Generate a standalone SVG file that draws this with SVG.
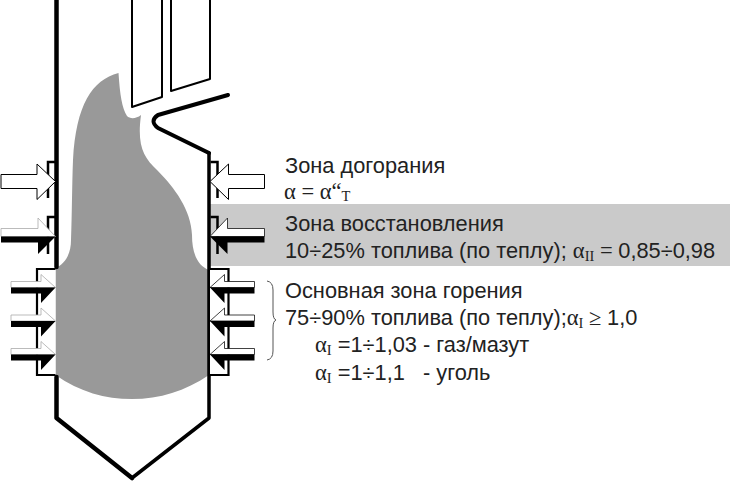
<svg xmlns="http://www.w3.org/2000/svg" width="731" height="483" viewBox="0 0 731 483">
<style>
.t{font-family:"Liberation Sans",Arial,sans-serif;font-size:21.800px;fill:#222}
.g{font-family:"Liberation Serif","Times New Roman",serif;font-size:22.500px;fill:#222}
.s{font-family:"Liberation Serif","Times New Roman",serif;font-size:14.500px;fill:#222}
.w{fill:none;stroke:#000;stroke-linejoin:round;stroke-linecap:round}
.box{fill:#fff;stroke:#000;stroke-width:2.200}
#burners-left{color:#aaa}
#burners-right{color:#111}
</style>
<defs>
<g id="airTop">
<path d="M48 198V162H55" fill="none" stroke="#000" stroke-width="2.500"/>
<path d="M1 174.500H37V164L55.500 181.500L37 199.500V188.500H1Z" fill="#fff" stroke="#000" stroke-width="1"/>
</g>
<g id="airMid">
<path d="M48 254V217H55" fill="none" stroke="#000" stroke-width="2.500"/>
<path d="M1 228.500H38V218L55.500 236.500H1Z" fill="#fff" stroke="currentColor" stroke-width="0.800"/>
<path d="M1 236.500H55.500L38 254V242.500H1Z" fill="#000"/>
</g>
<g id="airLow">
<path d="M11 281.500H41V274.500L55.500 287.500H11Z" fill="#fff" stroke="currentColor" stroke-width="0.800"/>
<path d="M11 287.500H55.500L41 303V293.500H11Z" fill="#000"/>
</g>
</defs>
<rect x="210" y="204" width="520" height="62" fill="#cacaca"/>
<g id="flame">
<path d="M118.500 73C92 80 76 105 73 160C72 185 72 215 71 240C71 254 65 264 55.500 268L55.500 375C80 392 105 399 132 399C160 399 185 391 209 375L209 270C198 266 192 254 192 235C191 210 175 188 157 170C143 157 137 145 141 115C136 119 130 119 127 116C122 108 120 95 118.500 73Z" fill="#999"/>
</g>
<g id="furnace">
<path class="w" stroke-width="4.500" d="M56.500 0V267"/>
<path class="w" stroke-width="4.500" d="M56.500 377V418L132 478"/>
<path class="w" stroke-width="3.500" d="M132 478L209 418V153"/>
<path class="w" stroke-width="4" d="M209 153L158 128Q149 121 158 115L228 95"/>
</g>
<g id="tubes">
<path class="w" stroke-width="2" d="M132 0V107L162 97V0"/>
<path class="w" stroke-width="2" d="M171 0V91L210 79V0"/>
</g>
<g id="burners-left">
<path class="box" d="M55.500 269H37V375H55.500"/>
<use href="#airTop"/><use href="#airMid"/>
<use href="#airLow"/><use href="#airLow" y="33.500"/><use href="#airLow" y="67"/>
</g>
<g id="burners-right" transform="translate(265.500 0) scale(-1 1)">
<path class="box" d="M55.500 269H37V375H55.500"/>
<use href="#airTop"/><use href="#airMid"/>
<use href="#airLow"/><use href="#airLow" y="33.500"/><use href="#airLow" y="67"/>
</g>
<g id="brace"><path d="M267 281Q273 282 273 290V312Q273 319 276 320Q273 321 273 328V351Q273 359 267 360" fill="none" stroke="#555" stroke-width="1"/></g>
<g id="labels">
<text class="t" x="285" y="173">Зона догорания</text>
<text class="g" x="284" y="199">α = α“<tspan class="s" dy="2">Т</tspan></text>
<text class="t" x="285" y="231">Зона восстановления</text>
<text class="t" x="285" y="258">10÷25% топлива (по теплу); <tspan class="g">α</tspan><tspan class="s" dy="3">II</tspan><tspan class="g" dy="-3"> = </tspan>0,85÷0,98</text>
<text class="t" x="285" y="298">Основная зона горения</text>
<text class="t" x="285" y="325">75÷90% топлива (по теплу);<tspan class="g">α</tspan><tspan class="s" dy="3">I</tspan><tspan class="g" dy="-3"> ≥ </tspan>1,0</text>
<text class="t" x="315" y="352"><tspan class="g">α</tspan><tspan class="s" dy="3">I</tspan><tspan dy="-3"> =1÷1,03 - газ/мазут</tspan></text>
<text class="t" x="315" y="380"><tspan class="g">α</tspan><tspan class="s" dy="3">I</tspan><tspan dy="-3" xml:space="preserve"> =1÷1,1   - уголь</tspan></text>
</g>
</svg>
